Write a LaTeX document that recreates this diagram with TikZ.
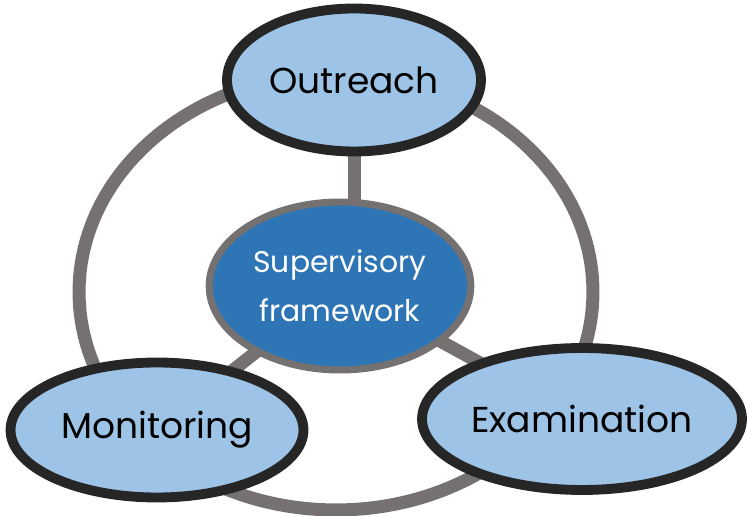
\documentclass[tikz,border=0pt]{standalone}
\usepackage{fontspec}
\setmainfont{Poppins}
\usetikzlibrary{shapes,positioning,calc,backgrounds}

\definecolor{areablue}{HTML}{9DC3E6}
\definecolor{coreblue}{HTML}{2E75B6}
\definecolor{rimdark}{HTML}{262626}
\definecolor{ringgray}{HTML}{767171}

\begin{document}
\begin{tikzpicture}[x=0.02cm, y=-0.02cm,
    area/.style={ellipse,draw=rimdark,line width=5.6pt,fill=areablue,inner sep=0pt,
                 font=\fontsize{20.5}{24}\selectfont},
    link/.style={draw=ringgray,line width=7.4pt}]
    \useasboundingbox (0,0) rectangle (747,516);

    % Ring joining the three areas
    \draw[link] (336,292) ellipse [x radius=5.14cm, y radius=4.36cm];

    % Supervisory framework
    \node[ellipse,draw=ringgray,line width=4pt,fill=coreblue,text=white,align=center,
          minimum width=5.0cm,minimum height=3.36cm,
          font=\fontsize{17}{28}\selectfont] (core) at (340,286) {Supervisory\\framework};

    % Outreach
    \node[area,minimum width=5.08cm,minimum height=2.86cm] (outreach) at (354,80) {Outreach};

    % Monitoring
    \node[area,minimum width=5.86cm,minimum height=2.7cm] (monitoring) at (157,430) {Monitoring};

    % Examination
    \node[area,minimum width=6.4cm,minimum height=2.84cm] (examination) at (582,419) {Examination};

    % Spokes
    \begin{scope}[on background layer]
        \draw[link] (outreach.center) -- (outreach.center |- core.center);
        \draw[link] (core.center) -- (monitoring.center);
        \draw[link] (core.center) -- (examination.center);
    \end{scope}
\end{tikzpicture}
\end{document}
